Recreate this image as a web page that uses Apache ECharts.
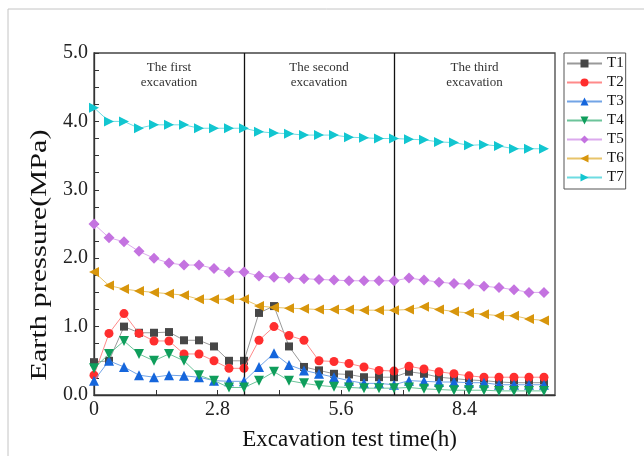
<!DOCTYPE html>
<html>
<head>
<meta charset="utf-8">
<script src="https://cdn.jsdelivr.net/npm/echarts@6/dist/echarts.min.js"></script>
<style>
  html, body { margin: 0; padding: 0; background: #fff; }
  #chart { width: 644px; height: 456px; }
</style>
</head>
<body>
<div id="chart"></div>
<script>
// Elapsed test time of each reading (h)
const times = [0, 0.34, 0.68, 1.02, 1.36, 1.70, 2.04, 2.38, 2.72, 3.06, 3.40,
  3.74, 4.08, 4.42, 4.76, 5.10, 5.44, 5.78, 6.12, 6.46, 6.80,
  7.14, 7.48, 7.82, 8.16, 8.50, 8.84, 9.18, 9.52, 9.86, 10.20];

// Earth pressure readings (MPa) for each gauge
const T1 = [0.48, 0.5, 1.0, 0.91, 0.91, 0.92, 0.8, 0.8, 0.71, 0.5, 0.5,
  1.2, 1.3, 0.71, 0.41, 0.36, 0.31, 0.30, 0.26, 0.26, 0.26,
  0.34, 0.31, 0.26, 0.24, 0.22, 0.21, 0.19, 0.18, 0.18, 0.18];
const T2 = [0.29, 0.9, 1.19, 0.9, 0.79, 0.79, 0.6, 0.6, 0.5, 0.39, 0.39,
  0.8, 1.0, 0.87, 0.8, 0.5, 0.49, 0.46, 0.41, 0.36, 0.35,
  0.42, 0.38, 0.34, 0.31, 0.28, 0.26, 0.26, 0.26, 0.26, 0.26];
const T3 = [0.21, 0.5, 0.41, 0.29, 0.26, 0.29, 0.28, 0.26, 0.21, 0.2, 0.2,
  0.41, 0.61, 0.44, 0.36, 0.31, 0.26, 0.21, 0.17, 0.17, 0.15,
  0.21, 0.2, 0.19, 0.19, 0.18, 0.18, 0.15, 0.15, 0.15, 0.15];
const T4 = [0.39, 0.6, 0.79, 0.6, 0.5, 0.6, 0.5, 0.29, 0.21, 0.11, 0.11,
  0.21, 0.34, 0.21, 0.17, 0.14, 0.12, 0.11, 0.1, 0.1, 0.1,
  0.11, 0.09, 0.08, 0.07, 0.07, 0.07, 0.06, 0.06, 0.06, 0.06];
const T5 = [2.5, 2.3, 2.24, 2.1, 2.0, 1.93, 1.9, 1.9, 1.85, 1.8, 1.8,
  1.74, 1.72, 1.71, 1.7, 1.69, 1.68, 1.67, 1.67, 1.67, 1.67,
  1.71, 1.68, 1.65, 1.63, 1.62, 1.59, 1.57, 1.54, 1.5, 1.5];
const T6 = [1.8, 1.6, 1.55, 1.52, 1.5, 1.48, 1.46, 1.4, 1.4, 1.4, 1.4,
  1.3, 1.28, 1.27, 1.26, 1.25, 1.25, 1.25, 1.24, 1.24, 1.24,
  1.25, 1.29, 1.25, 1.22, 1.2, 1.18, 1.16, 1.16, 1.11, 1.09];
const T7 = [4.2, 4.0, 4.0, 3.9, 3.95, 3.95, 3.95, 3.9, 3.9, 3.9, 3.9,
  3.85, 3.83, 3.82, 3.8, 3.8, 3.8, 3.77, 3.76, 3.75, 3.75,
  3.74, 3.73, 3.7, 3.69, 3.65, 3.66, 3.64, 3.6, 3.6, 3.6];

// Excavation stages: start time, end time, caption
const stageStarts = [0, 3.40, 6.80];
const stageEnds = [3.40, 6.80, 10.45];
const stageNames = ['The first\nexcavation', 'The second\nexcavation', 'The third\nexcavation'];
const stageBounds = [3.40, 6.80];

const serif = '"Liberation Serif", "Times New Roman", serif';

const gauges = [
  { name: 'T1', data: T1, symbol: 'rect', rotate: 0, color: '#474747', line: '#9a9a9a', size: 8 },
  { name: 'T2', data: T2, symbol: 'circle', rotate: 0, color: '#ff2e2e', line: '#ff8a8a', size: 9 },
  { name: 'T3', data: T3, symbol: 'triangle', rotate: 0, color: '#1566dc', line: '#72a4e6', size: 10 },
  { name: 'T4', data: T4, symbol: 'triangle', rotate: 180, color: '#0f9e5c', line: '#6cc49a', size: 10 },
  { name: 'T5', data: T5, symbol: 'diamond', rotate: 0, color: '#c473e0', line: '#dcaaee', size: 11 },
  { name: 'T6', data: T6, symbol: 'triangle', rotate: 90, color: '#d8960c', line: '#e8c46a', size: 10 },
  { name: 'T7', data: T7, symbol: 'triangle', rotate: -90, color: '#12c6d0', line: '#6edce2', size: 10 }
];

const series = gauges.map(function (g, idx) {
  const s = {
    name: g.name,
    type: 'line',
    data: times.map(function (t, i) { return [t, g.data[i]]; }),
    symbol: g.symbol,
    symbolSize: g.size,
    symbolRotate: g.rotate,
    showAllSymbol: true,
    itemStyle: { color: g.color },
    lineStyle: { color: g.line, width: 1 },
    z: 3 + idx
  };
  if (idx === 0) {
    // stage boundaries
    s.markLine = {
      silent: true,
      symbol: 'none',
      label: { show: false },
      lineStyle: { color: '#111', width: 1.3, type: 'solid' },
      data: stageBounds.map(function (b) { return { xAxis: b }; })
    };
    // stage captions, centred over each stage
    s.markArea = {
      silent: true,
      itemStyle: { color: 'rgba(0,0,0,0)' },
      label: {
        show: true,
        position: 'insideTop',
        distance: 7,
        color: '#333',
        fontFamily: serif,
        fontSize: 13,
        lineHeight: 15
      },
      data: stageStarts.map(function (s0, k) {
        return [{ xAxis: s0, name: stageNames[k] }, { xAxis: stageEnds[k] }];
      })
    };
  }
  return s;
});

const chart = echarts.init(document.getElementById('chart'), null, { renderer: 'canvas' });
chart.setOption({
  backgroundColor: '#fff',
  animation: false,
  graphic: [{
    type: 'rect',
    shape: { x: 8, y: 9, width: 700, height: 500 },
    style: { fill: 'none', stroke: '#c4c4c4', lineWidth: 1 },
    silent: true
  }, {
    // y-axis title, drawn slightly elongated along its reading direction
    type: 'text',
    x: 40, y: 255,
    rotation: Math.PI / 2,
    scaleX: 1.26,
    silent: true,
    style: {
      text: 'Earth pressure(MPa)',
      fontFamily: serif, fontSize: 24, fill: '#111',
      textAlign: 'center', textVerticalAlign: 'middle'
    }
  }],
  grid: {
    left: 94, right: 89, top: 53, bottom: 58,
    show: true, borderColor: '#444', borderWidth: 1.3, backgroundColor: '#fff'
  },
  legend: {
    orient: 'vertical',
    left: 564, top: 53,
    padding: [3, 2, 4, 2],
    itemWidth: 35, itemHeight: 10, itemGap: 4,
    borderColor: '#555', borderWidth: 1,
    textStyle: { fontFamily: serif, fontSize: 15, color: '#111', lineHeight: 14 },
    data: gauges.map(function (g) { return g.name; })
  },
  xAxis: {
    type: 'value',
    min: 0, max: 10.45, interval: 1.4,
    name: 'Excavation test time(h)',
    nameLocation: 'middle',
    nameGap: 33,
    nameTextStyle: { fontFamily: serif, fontSize: 23, color: '#111', padding: [0, 0, 0, 50] },
    axisLine: { lineStyle: { color: '#333', width: 1.3 } },
    axisTick: { inside: true, length: 5, lineStyle: { color: '#333' } },
    splitLine: { show: false },
    axisLabel: {
      fontFamily: serif, fontSize: 20, color: '#222', margin: 5,
      showMaxLabel: false,
      formatter: function (v) {
        const k = v / 2.8;
        if (Math.abs(k - Math.round(k)) < 1e-6) return v === 0 ? '0' : v.toFixed(1);
        return '';
      }
    }
  },
  yAxis: {
    type: 'value',
    min: 0, max: 5, interval: 0.25,
    axisLine: { show: true, lineStyle: { color: '#333', width: 1.3 } },
    axisTick: { inside: true, length: 5, lineStyle: { color: '#333' } },
    splitLine: { show: false },
    axisLabel: {
      fontFamily: serif, fontSize: 20, color: '#222', margin: 6,
      formatter: function (v) {
        return Math.abs(v - Math.round(v)) < 1e-6 ? v.toFixed(1) : '';
      }
    }
  },
  series: series
});
</script>
</body>
</html>
